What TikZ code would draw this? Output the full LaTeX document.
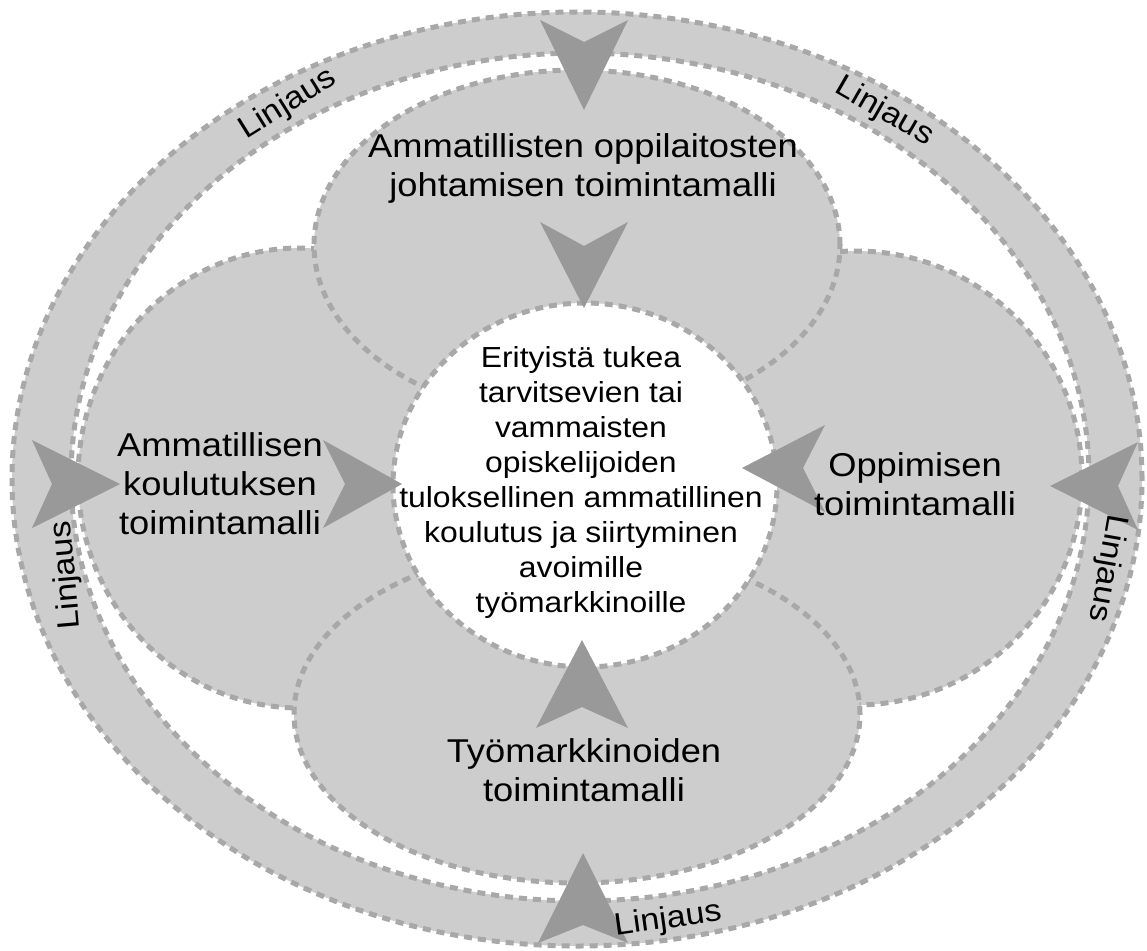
\documentclass[tikz,border=0pt]{standalone}
\usepackage{fontspec}
\setmainfont{Liberation Sans}[FakeStretch=1.1]
\definecolor{regiongray}{HTML}{CDCDCD}
\definecolor{dashc}{HTML}{A8A8A8}
\definecolor{dartc}{HTML}{999999}
\tikzset{
  border/.style={draw=dashc, line width=5pt, dash pattern=on 8pt off 6pt},
  region/.style={fill=regiongray, border},
  dart/.style={fill=dartc, draw=none},
  lbl/.style={align=center, font=\fontsize{33}{39}\selectfont, text=black, inner sep=0pt},
  ctr/.style={align=center, font=\fontsize{29}{35}\selectfont, text=black, inner sep=0pt},
  linj/.style={font=\fontsize{31}{36}\selectfont, text=black, inner sep=0pt},
}
\begin{document}
\begin{tikzpicture}[x=1pt,y=-1pt]
\useasboundingbox (0,0) rectangle (1147,950);
% outer ring
\fill[regiongray, even odd rule] (577,479) ellipse [x radius=565pt, y radius=467pt]
                            (580,477) ellipse [x radius=509pt, y radius=424pt];
\draw[border] (577,479) ellipse [x radius=565pt, y radius=467pt];
\draw[border] (580,477) ellipse [x radius=509pt, y radius=424pt];
% side regions
\draw[region] (300,478) ellipse [x radius=222pt, y radius=230pt];
\draw[region] (856,478) ellipse [x radius=226pt, y radius=227pt];
% top and bottom regions
\draw[region] (577,245) ellipse [x radius=263pt, y radius=175pt];
\draw[region] (577,714) ellipse [x radius=283pt, y radius=169pt];
% centre
\draw[border, fill=white] (585,485) ellipse [x radius=192pt, y radius=182pt];
% darts
\fill[dart] (540,20) -- (584,110) -- (628,20) -- (584,42) -- cycle;
\fill[dart] (540,222) -- (584,308) -- (628,222) -- (584,246) -- cycle;
\fill[dart] (32,440) -- (120,484) -- (32,528) -- (52,484) -- cycle;
\fill[dart] (323,440) -- (402,484) -- (323,528) -- (345,484) -- cycle;
\fill[dart] (825,425) -- (742,468) -- (825,512) -- (803,468) -- cycle;
\fill[dart] (1138,442) -- (1050,486) -- (1138,530) -- (1118,486) -- cycle;
\fill[dart] (536,728) -- (582,640) -- (628,728) -- (582,707) -- cycle;
\fill[dart] (538,943) -- (583,853) -- (628,943) -- (583,925) -- cycle;
% texts
\node[lbl] (top) at (583,168) {Ammatillisten oppilaitosten\\johtamisen toimintamalli};
\node[lbl] (left) at (220,484) {Ammatillisen\\koulutuksen\\toimintamalli};
\node[lbl] (right) at (915,484) {Oppimisen\\toimintamalli};
\node[lbl] (bottom) at (584,770) {Työmarkkinoiden\\toimintamalli};
\node[ctr] (centre) at (581,482) {Erityistä tukea\\tarvitsevien tai\\vammaisten\\opiskelijoiden\\tuloksellinen ammatillinen\\koulutus ja siirtyminen\\avoimille\\työmarkkinoille};
% ring labels
\node[linj, rotate=32] (l1) at (288,104) {Linjaus};
\node[linj, rotate=-30] (l2) at (884,112) {Linjaus};
\node[linj, rotate=95] (l3) at (67,575) {Linjaus};
\node[linj, rotate=-100] (l4) at (1107,568) {Linjaus};
\node[linj, rotate=8] (l5) at (668,920) {Linjaus};
\end{tikzpicture}
\end{document}
